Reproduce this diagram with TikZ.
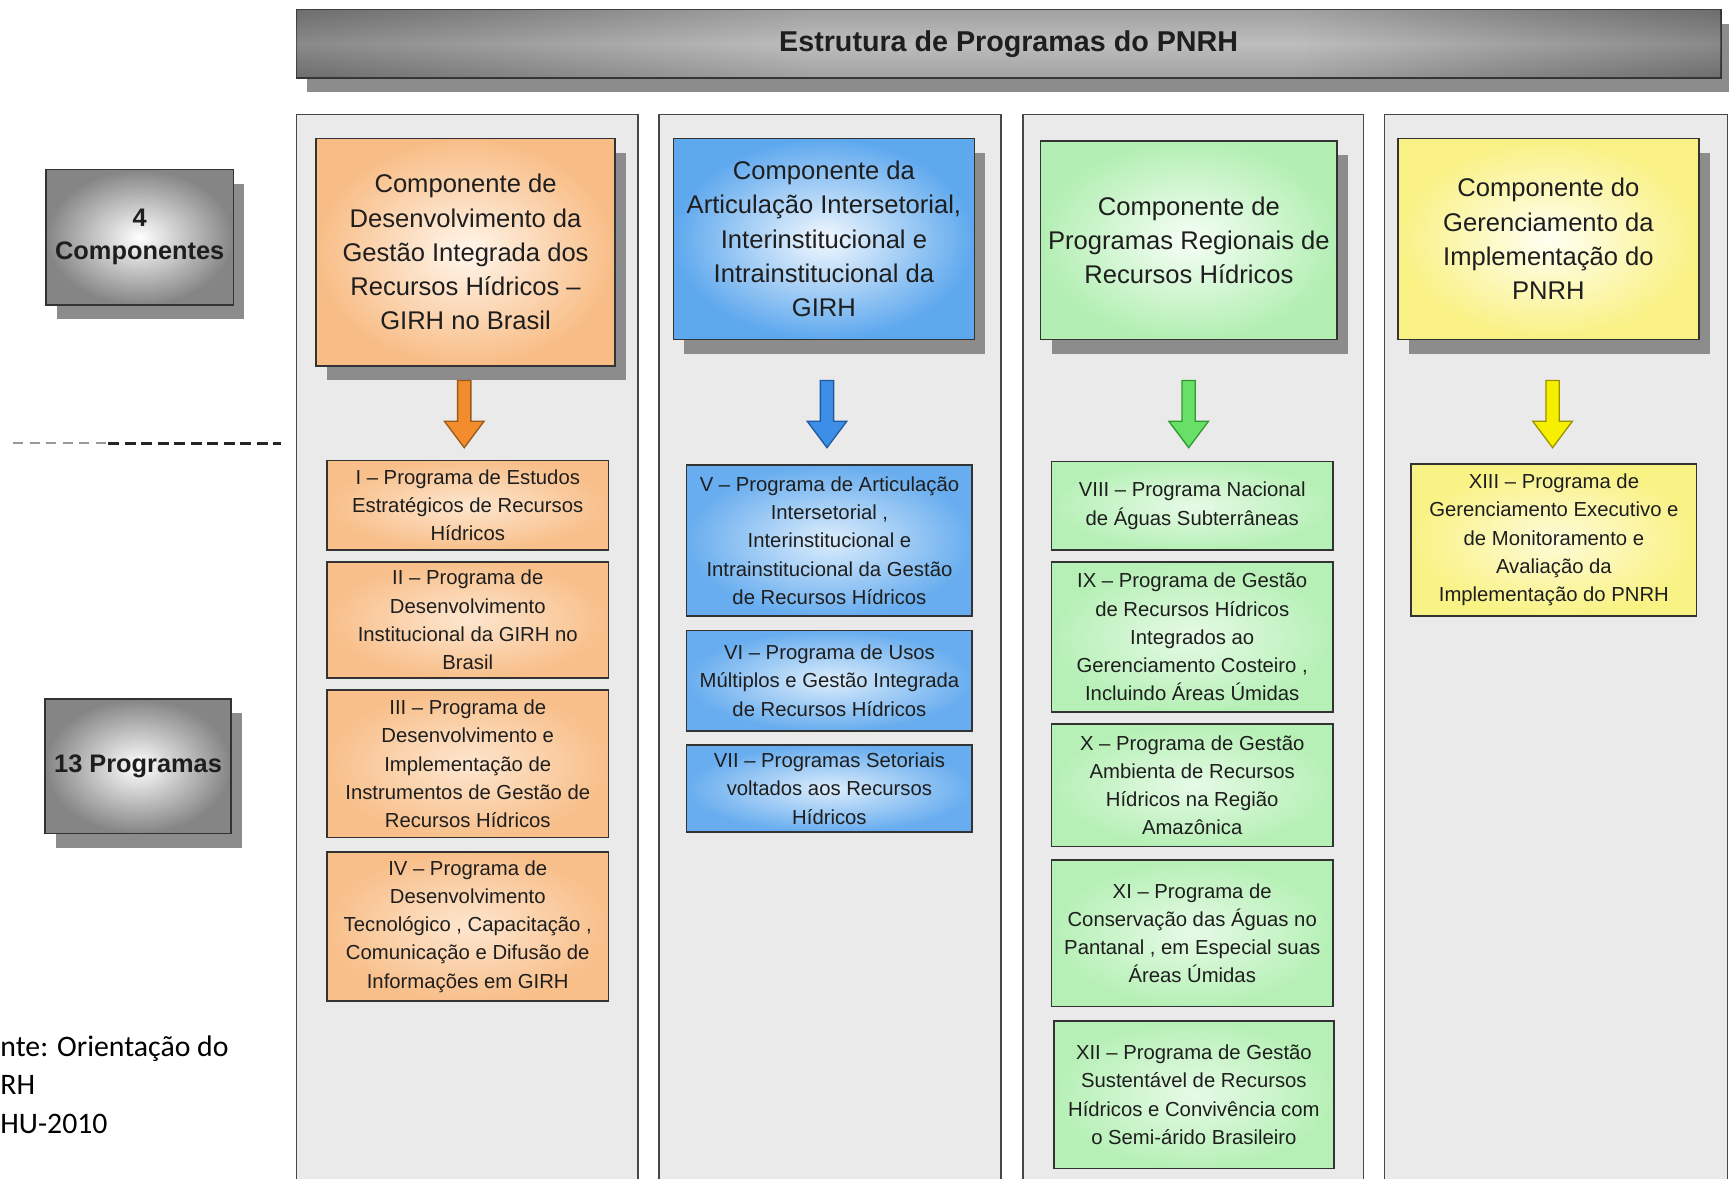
\documentclass[tikz,border=0pt]{standalone}
\usepackage{fontspec}
\setmainfont{Liberation Sans}
\newfontfamily\footfont{Carlito}
\usetikzlibrary{calc,shadows}
\definecolor{orOut}{HTML}{F8BD86}
\definecolor{orIn}{HTML}{FFF6EC}
\definecolor{orPOut}{HTML}{F8BF8A}
\definecolor{orPIn}{HTML}{FDE6CF}
\definecolor{blOut}{HTML}{5EA8EE}
\definecolor{blIn}{HTML}{F2F8FE}
\definecolor{blPOut}{HTML}{68ADEF}
\definecolor{blPIn}{HTML}{DCEDFC}
\definecolor{grOut}{HTML}{B3EFB3}
\definecolor{grIn}{HTML}{F6FEF6}
\definecolor{grPOut}{HTML}{B6F0B6}
\definecolor{grPIn}{HTML}{E6FAE6}
\definecolor{yeOut}{HTML}{F9F184}
\definecolor{yeIn}{HTML}{FFFFF2}
\definecolor{yePOut}{HTML}{F9F285}
\definecolor{yePIn}{HTML}{FEFBD8}
\definecolor{panelfill}{HTML}{EAEAEA}
\definecolor{shadowgray}{HTML}{8C8C8C}
\definecolor{titleDark}{HTML}{888888}
\definecolor{titleMid}{HTML}{ABABAB}
\definecolor{titleLight}{HTML}{D9D9D9}
\definecolor{textdark}{HTML}{1E1E1E}
\definecolor{arrOrF}{HTML}{F28C2C}
\definecolor{arrOrD}{HTML}{9A5A1C}
\definecolor{arrBlF}{HTML}{3D8EE6}
\definecolor{arrBlD}{HTML}{1F5BA0}
\definecolor{arrGrF}{HTML}{68E068}
\definecolor{arrGrD}{HTML}{2E9A2E}
\definecolor{arrYeF}{HTML}{F7EF00}
\definecolor{arrYeD}{HTML}{9C9200}
\pgfdeclarehorizontalshading{titleshade}{100bp}{color(0bp)=(titleDark); color(25bp)=(titleDark); color(33bp)=(titleMid); color(43bp)=(titleLight); color(60bp)=(titleLight); color(68bp)=(titleMid); color(75bp)=(titleDark); color(100bp)=(titleDark)}
\newcommand\pnrharrow[3]{%
  \draw[#3, line width=0.6pt, line join=miter]
    ($(#1)+(-6,0)$) -- ($(#2)+(-6,-24)$) -- ($(#2)+(-18,-24)$) -- (#2)
    -- ($(#2)+(18,-24)$) -- ($(#2)+(6,-24)$) -- ($(#1)+(6,0)$) -- cycle;}
\tikzset{
  boxbase/.style={draw=black!80, line width=0.7pt, anchor=north west, inner sep=0pt, align=center, text=textdark},
  myshadow/.style={drop shadow={shadow xshift=5pt, shadow yshift=-6.5pt, fill=shadowgray, opacity=1}},
  compbox/.style={boxbase, myshadow, font=\fontsize{11.6}{15.5}\selectfont},
  progbox/.style={boxbase, font=\fontsize{9.2}{12.8}\selectfont},
  sidebox/.style={boxbase, myshadow, inner color=white, outer color=black!48, font=\bfseries\fontsize{11.5}{15}\selectfont},
  panel/.style={draw=black!72, line width=0.7pt, fill=panelfill, anchor=north west, inner sep=0pt, minimum height=490pt},
  orC/.style={inner color=orIn, outer color=orOut},
  orP/.style={inner color=orPIn, outer color=orPOut},
  blC/.style={inner color=blIn, outer color=blOut},
  blP/.style={inner color=blPIn, outer color=blPOut},
  grC/.style={inner color=grIn, outer color=grOut},
  grP/.style={inner color=grPIn, outer color=grPOut},
  yeC/.style={inner color=yeIn, outer color=yeOut},
  yeP/.style={inner color=yePIn, outer color=yePOut},
  foot/.style={anchor=base west, inner sep=0pt, font=\footfont\fontsize{13.5}{16}\selectfont}
}
\begin{document}
\begin{tikzpicture}[x=0.5pt,y=-0.5pt]
\useasboundingbox[fill=white] (0,0) rectangle (1568,1069);

% title
\node[boxbase, myshadow, shading=titleshade,
  minimum width=646pt, minimum height=31pt] (title) at (268,8) {};
\fill[fill opacity=0.2, top color=black!55, bottom color=black!55, middle color=white]
  ([xshift=0.35pt,yshift=-0.35pt]title.north west) rectangle ([xshift=-0.35pt,yshift=0.35pt]title.south east);
\node[inner sep=0pt, text=textdark, font=\bfseries\fontsize{13}{15}\selectfont] (titletext) at (title.center) {Estrutura de Programas do PNRH};

% side boxes
\node[sidebox, minimum width=85pt, minimum height=61.5pt] (comps) at (41,153) {4\\Componentes};
\node[sidebox, minimum width=84.5pt, minimum height=61pt] (progs) at (40,633) {13 Programas};

% dashed separator
\coordinate (d0) at (12,402);
\coordinate (d1) at (98,402);
\coordinate (d2) at (255,402);
\draw[black!40, line width=0.8pt, dash pattern=on 4.5pt off 3pt] (d0) -- (d1);
\draw[black!85, line width=1.4pt, dash pattern=on 5pt off 2.5pt] (d1) -- (d2);

% footer
\node[foot] (f1) at (0,958) {nte: Orientação do};
\node[foot] (f2) at (0,993) {RH};
\node[foot] (f3) at (0,1028) {HU-2010};

% panels
\node[panel, minimum width=155pt] (p1) at (268,103) {};
\node[panel, minimum width=155pt] (p2) at (597,103) {};
\node[panel, minimum width=154.5pt] (p3) at (927,103) {};
\node[panel, minimum width=155.5pt] (p4) at (1255,103) {};

% components
\node[compbox, orC, minimum width=135.5pt, minimum height=103pt] (c1) at (286,125)
  {Componente de\\Desenvolvimento da\\Gestão Integrada dos\\Recursos Hídricos –\\GIRH no Brasil};
\node[compbox, blC, minimum width=136.5pt, minimum height=91pt] (c2) at (610,125)
  {Componente da\\Articulação Intersetorial,\\Interinstitucional e\\Intrainstitucional da\\GIRH};
\node[compbox, grC, minimum width=134.5pt, minimum height=90pt] (c3) at (943,127)
  {Componente de\\Programas Regionais de\\Recursos Hídricos};
\node[compbox, yeC, minimum width=136.5pt, minimum height=91pt] (c4) at (1267,125)
  {Componente do\\Gerenciamento da\\Implementação do\\PNRH};

% arrows
\coordinate (a1s) at (421,345); \coordinate (a1e) at (421,406);
\coordinate (a2s) at (750,345); \coordinate (a2e) at (750,406);
\coordinate (a3s) at (1078,345); \coordinate (a3e) at (1078,406);
\coordinate (a4s) at (1408,345); \coordinate (a4e) at (1408,406);
\pnrharrow{a1s}{a1e}{fill=arrOrF, draw=arrOrD}
\pnrharrow{a2s}{a2e}{fill=arrBlF, draw=arrBlD}
\pnrharrow{a3s}{a3e}{fill=arrGrF, draw=arrGrD}
\pnrharrow{a4s}{a4e}{fill=arrYeF, draw=arrYeD}

% column 1 programs
\node[progbox, orP, minimum width=127.5pt, minimum height=40.5pt] (pI) at (296,417)
  {I – Programa de Estudos\\Estratégicos de Recursos\\Hídricos};
\node[progbox, orP, minimum width=127.5pt, minimum height=52.5pt] (pII) at (296,509)
  {II – Programa de\\Desenvolvimento\\Institucional da GIRH no\\Brasil};
\node[progbox, orP, minimum width=127.5pt, minimum height=67pt] (pIII) at (296,625)
  {III – Programa de\\Desenvolvimento e\\Implementação de\\Instrumentos de Gestão de\\Recursos Hídricos};
\node[progbox, orP, minimum width=127.5pt, minimum height=67.5pt] (pIV) at (296,772)
  {IV – Programa de\\Desenvolvimento\\Tecnológico , Capacitação ,\\Comunicação e Difusão de\\Informações em GIRH};

% column 2 programs
\node[progbox, blP, minimum width=129.5pt, minimum height=68.5pt] (pV) at (622,421)
  {V – Programa de Articulação\\Intersetorial ,\\Interinstitucional e\\Intrainstitucional da Gestão\\de Recursos Hídricos};
\node[progbox, blP, minimum width=129.5pt, minimum height=45.5pt] (pVI) at (622,571)
  {VI – Programa de Usos\\Múltiplos e Gestão Integrada\\de Recursos Hídricos};
\node[progbox, blP, minimum width=129.5pt, minimum height=39.5pt] (pVII) at (622,675)
  {VII – Programas Setoriais\\voltados aos Recursos\\Hídricos};

% column 3 programs
\node[progbox, grP, minimum width=127.5pt, minimum height=40pt] (pVIII) at (953,418)
  {VIII – Programa Nacional\\de Águas Subterrâneas};
\node[progbox, grP, minimum width=127.5pt, minimum height=68pt] (pIX) at (953,509)
  {IX – Programa de Gestão\\de Recursos Hídricos\\Integrados ao\\Gerenciamento Costeiro ,\\Incluindo Áreas Úmidas};
\node[progbox, grP, minimum width=127.5pt, minimum height=55.5pt] (pX) at (953,656)
  {X – Programa de Gestão\\Ambienta de Recursos\\Hídricos na Região\\Amazônica};
\node[progbox, grP, minimum width=127.5pt, minimum height=66.5pt] (pXI) at (953,779)
  {XI – Programa de\\Conservação das Águas no\\Pantanal , em Especial suas\\Áreas Úmidas};
\node[progbox, grP, minimum width=127pt, minimum height=67pt] (pXII) at (955,925)
  {XII – Programa de Gestão\\Sustentável de Recursos\\Hídricos e Convivência com\\o Semi-árido Brasileiro};

% column 4 program
\node[progbox, yeP, minimum width=129.5pt, minimum height=69pt] (pXIII) at (1279,420)
  {XIII – Programa de\\Gerenciamento Executivo e\\de Monitoramento e\\Avaliação da\\Implementação do PNRH};
\end{tikzpicture}
\end{document}
